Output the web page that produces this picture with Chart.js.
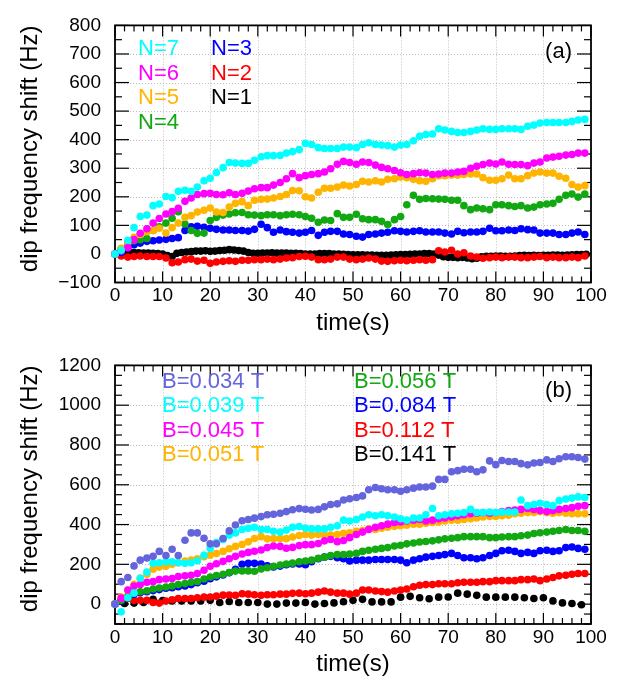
<!DOCTYPE html>
<html><head><meta charset="utf-8">
<script src="https://cdn.jsdelivr.net/npm/chart.js@4.4.1/dist/chart.umd.min.js"></script>
<style>
html,body{margin:0;padding:0;background:#fff;}
#wrap{position:relative;width:638px;height:683px;overflow:hidden;background:#fff;}
#ca{position:absolute;left:0;top:0;}
#cb{position:absolute;left:0;top:340px;}
</style></head><body>
<div id="wrap"><canvas id="ca" width="638" height="340"></canvas><canvas id="cb" width="638" height="343"></canvas></div>
<script>
const FONT = '"Liberation Sans", Arial, Helvetica, sans-serif';

// time axes (s)
const T = [0,1.3,2.7,4,5.3,6.7,8,9.3,10.7,12,13.3,14.7,16,17.3,18.7,
20,21.3,22.7,24,25.3,26.7,28,29.3,30.7,32,33.3,34.7,36,37.3,38.7,
40,41.3,42.7,44,45.3,46.7,48,49.3,50.7,52,53.3,54.7,56,57.3,58.7,
60,61.3,62.7,64,65.3,66.7,68,69.3,70.7,72,73.3,74.7,76,77.3,78.7,
80,81.3,82.7,84,85.3,86.7,88,89.3,90.7,92,93.3,94.7,96,97.3,98.7];
const T1 = [0,1,2,3,4,5,6,7,8,9,10,11,12,13,14,15,16,17,18,19,20,21,22,23,24,25,26,27,28,29,
30,31,32,33,34,35,36,37,38,39,40,41,42,43,44,45,46,47,48,49,50,51,52,53,54,55,56,57,58,59,
60,61,62,63,64,65,66,67,68,69,70,71,72,73,74,75,76,77,78,79,80,81,82,83,84,85,86,87,88,89,
90,91,92,93,94,95,96,97,98,99];
const T2 = [0,2,4,6,8,10,12,14,16,18,20,22,24,26,28,30,32,34,36,38,40,42,44,46,48,
50,52,54,56,58,60,62,64,66,68,70,72,74,76,78,80,82,84,86,88,90,92,94,96,98];

// panel (a): N series (Hz)
const N7 = [0,13,48,92,131,136,169,175,201,197,219,223,219,234,256,
265,285,302,320,318,317,317,328,340,344,344,345,353,358,365,
387,383,372,369,369,369,374,
374,372,383,389,383,381,379,374,381,383,396,412,418,420,438,434,429,425,425,429,434,438,436,436,438,438,438,436,447,451,458,460,460,460,460,464,469,471];
const N6 = [0,10,22,50,72,88,108,124,140,148,160,184,196,208,211,
212,208,207,214,208,212,220,228,232,232,241,250,263,281,267,
274,278,281,287,298,314,324,
320,314,322,320,311,303,298,292,284,278,281,284,283,278,280,283,283,287,289,300,307,313,318,315,322,314,313,313,309,318,322,336,339,342,346,348,353,353];
const N5 = [0,20,42,58,68,78,82,90,73,92,108,128,134,147,153,
161,147,145,164,177,183,169,188,191,192,196,201,208,222,221,
200,196,216,230,230,234,241,
238,243,254,252,256,252,261,263,269,267,261,256,254,263,274,274,276,276,278,280,280,267,258,258,263,276,263,263,274,283,287,283,283,272,265,243,234,239];
const N4 = [0,18,38,46,50,54,82,95,108,125,148,105,82,72,73,
117,128,136,140,144,145,137,136,134,137,137,134,137,139,137,
131,125,111,119,117,141,128,128,139,123,120,120,114,103,120,
131,172,205,191,194,193,192,191,188,188,169,155,161,158,155,
172,172,169,166,169,161,164,172,175,177,191,205,210,199,210];
const N3 = [0,5,22,32,38,44,46,49,51,54,57,82,95,97,93,
90,86,84,84,82,82,80,86,104,92,76,84,78,76,73,
76,82,65,76,79,79,70,68,62,59,68,70,73,76,81,
79,77,79,81,77,77,77,73,70,79,74,77,77,79,90,
81,81,84,82,88,85,84,73,73,73,68,68,73,77,68];
const N2 = [0,-7,-11,-9,-7,-9,-9,-9,-14,-31,-28,-20,-18,-25,-22,
-33,-28,-26,-24,-26,-22,-22,-20,-20,-18,-20,-18,-14,-13,-9,
-8,-11,-20,-20,-18,-11,-11,-18,-20,-18,-14,-18,-25,-26,-24,
-22,-24,-22,-20,-22,-20,11,7,13,0,4,-7,-11,-15,-13,
-11,-13,-11,-11,-13,-13,-11,-9,-13,-11,-13,-13,-11,-13,-7];
const N1 = [0,5,6,5,5,4,3,3,2,1, 0,-6,-9,2,5,7,8,10,10,11,
9,10,12,13,15,14,12,10,5,2, 2,3,3,4,3,3,3,2,2,1,
0,0,0,1,1,1,0,0,-1,-2, -3,-3,-3,-4,-4,-5,-5,-5,-4,-3,
-2,-2,-1,0,0,1,1,0,-4,-10, -12,-12,-13,-12,-14,-17,-15,-10,-8,-8,
-7,-7,-8,-8,-7,-6,-5,-6,-5,-6, -5,-5,-4,-4,-5,-4,-3,-2,-2,-1];

// panel (b): B series (Hz)
const B034 = [0,113,134,192,221,232,240,265,244,276,244,321,358,358,331,
303,303,330,368,398,419,425,432,440,449,452,457,465,474,480,
477,473,476,489,501,504,523,530,536,544,575,586,580,575,575,
567,575,583,589,589,593,627,627,665,671,678,678,665,675,720,
701,722,717,717,706,700,709,712,725,717,731,741,741,737,729];
const B039 = [0,-39,32,55,130,161,205,208,213,213,208,205,208,218,245,
280,310,325,347,358,375,381,386,375,375,366,362,372,386,390,
382,378,378,378,386,394,422,
418,425,438,449,444,449,444,438,429,422,433,433,449,481,444,449,454,457,460,476,460,460,463,460,463,463,463,523,495,501,507,501,495,520,528,533,539,536];
const B045 = [0,30,71,91,98,110,113,123,126,129,139,142,145,154,170,
190,203,215,228,240,252,260,266,272,284,292,290,281,285,294,
299,299,305,318,325,314,320,
334,350,362,375,386,394,402,410,413,418,422,425,418,422,429,433,438,444,449,454,457,460,457,460,465,470,473,476,481,476,470,465,470,476,481,485,492,495];
const B051 = [0,35,70,100,130,150,175,186,190,200,208,216,221,228,238,
246,254,265,278,290,300,313,330,339,328,329,330,329,337,345,
350,347,350,350,347,350,356,
359,366,370,378,375,381,386,391,394,397,402,402,407,410,413,418,422,422,425,429,433,438,441,441,444,447,454,457,460,460,465,460,457,460,457,454,454,454];
const B056 = [0,20,40,57,62,67,76,81,86,91,98,103,110,114,126,
136,144,150,159,166,167,167,165,177,183,190,196,202,206,213,
217,221,230,236,244,249,249,
252,255,265,271,276,280,284,292,296,303,307,312,315,318,323,328,331,334,339,339,339,339,334,334,337,339,339,344,347,355,359,362,366,370,375,370,370,366];
const B084 = [0,15,32,50,57,62,68,73,80,82,87,91,98,107,115,
128,137,146,158,175,200,205,205,202,192,187,191,198,202,202,
198,213,228,236,240,233,228,
217,221,221,221,224,224,224,224,221,208,221,228,236,240,244,249,255,244,233,233,228,233,244,255,268,271,265,255,260,255,268,271,265,268,284,287,280,276];
const B112 = [0,18,28,19,19,19,8,5,15,22,28,28,28,32,35,
36,40,45,46,44,52,50,47,44,47,47,50,50,54,55,
52,55,60,66,60,55,55,
50,55,71,71,66,63,60,66,71,76,87,95,98,98,102,102,102,107,110,110,110,113,113,118,118,118,118,123,123,126,118,126,134,142,145,150,154,154];
const B141 = [0,3,5,8,24,18,16,16,16,16,19,8,13,8,8,8,0,0,5,5,
8,0,3,6,12,19,24,11,11,11,35,39,32,27,35,36,55,50,44,35,
35,35,35,32,28,32,16,6,3,-3];

// labels, colours, ticks
const NAMES_A = ['N=7','N=6','N=5','N=4','N=3','N=2','N=1'];
const COLORS_A = ['#00FFFF','#FF00FF','#FFB400','#12A812','#0000FF','#FF0000','#000000'];
const NAMES_B = ['B=0.034 T','B=0.039 T','B=0.045 T','B=0.051 T','B=0.056 T','B=0.084 T','B=0.112 T','B=0.141 T'];
const COLORS_B = ['#6464DC','#00FFFF','#FF00FF','#FFB400','#12A812','#0000FF','#FF0000','#000000'];
const X_TICKS = [0,10,20,30,40,50,60,70,80,90,100];
const Y_TICKS_A = [-100,0,100,200,300,400,500,600,700,800];
const Y_TICKS_B = [0,200,400,600,800,1000,1200];

const SERIES_A = [[T,N7],[T,N6],[T,N5],[T,N4],[T,N3],[T,N2],[T1,N1]];
const SERIES_B = [[T,B034],[T,B039],[T,B045],[T,B051],[T,B056],[T,B084],[T,B112],[T2,B141]];

function pts(ts, vs){ const out=[]; for(let i=0;i<ts.length && i<vs.length;i++) out.push({x:ts[i],y:vs[i]}); return out; }
function fmt(v){ return v<0 ? '\u2212'+Math.abs(v) : String(v); }

const rootFrame = {
  id:'rootFrame',
  beforeDatasetsDraw(chart, args, o){
    const {ctx, chartArea:a, scales:{x,y}} = chart;
    ctx.save();
    ctx.strokeStyle='#bdbdbd'; ctx.lineWidth=1; ctx.setLineDash([1,2]);
    x.ticks.forEach(t=>{ if(t.value>x.min && t.value<x.max){ const p=Math.round(x.getPixelForValue(t.value))+0.5; ctx.beginPath(); ctx.moveTo(p,a.top); ctx.lineTo(p,a.bottom); ctx.stroke(); }});
    y.ticks.forEach(t=>{ if(t.value>y.min && t.value<y.max){ const p=Math.round(y.getPixelForValue(t.value))+0.5; ctx.beginPath(); ctx.moveTo(a.left,p); ctx.lineTo(a.right,p); ctx.stroke(); }});
    ctx.setLineDash([]);
    ctx.strokeStyle='#000'; ctx.lineWidth=1.2;
    const seg=(x1,y1,x2,y2)=>{ctx.beginPath();ctx.moveTo(x1,y1);ctx.lineTo(x2,y2);ctx.stroke();};
    for(let v=o.yMinorStart; v<=y.max+1e-9; v+=o.yMinor){
      const major = Math.abs(((v - o.yMajorBase) % o.yMajor)) < 1e-6;
      const L = major?14:7; const p=y.getPixelForValue(v);
      seg(a.left,p,a.left+L,p); seg(a.right,p,a.right-L,p);
    }
    for(let v=x.min; v<=x.max+1e-9; v+=o.xMinor){
      const major = Math.abs(v % 10) < 1e-6;
      const L = major?11:6; const p=x.getPixelForValue(v);
      seg(p,a.bottom,p,a.bottom-L); seg(p,a.top,p,a.top+L);
    }
    ctx.lineWidth=1.8;
    ctx.strokeRect(a.left,a.top,a.right-a.left,a.bottom-a.top);
    ctx.restore();
  }
};

const rootLegend = {
  id:'rootLegend',
  afterDraw(chart, args, o){
    const {ctx, chartArea:a} = chart;
    ctx.save();
    ctx.font = o.size+'px '+FONT; ctx.textBaseline='middle'; ctx.textAlign='left';
    o.labels.forEach((lab,i)=>{
      const col=Math.floor(i/o.rows), row=i%o.rows;
      ctx.fillStyle=o.colors[i];
      ctx.fillText(lab, a.left+o.dx+col*o.colDx, a.top+o.dy+row*o.rowDy);
    });
    ctx.textAlign='right'; ctx.fillStyle='#000';
    ctx.fillText(o.tag, a.right-o.tagDx, a.top+o.tagDy);
    ctx.restore();
  }
};

function makeChart(canvas, series, names, colors, yMin, yMax, yTicks, padTop, xAxisH, titlePadB, frameOpts, legendOpts){
  const datasets = series.map((s,i)=>({
    label:names[i], data:pts(s[0],s[1]), showLine:false,
    pointRadius:3.8, pointHoverRadius:3.8, pointBorderWidth:0,
    pointBackgroundColor:colors[i], backgroundColor:colors[i], borderColor:colors[i], clip:false
  }));
  return new Chart(canvas, {
    type:'scatter',
    data:{datasets},
    plugins:[rootFrame, rootLegend],
    options:{
      responsive:false, animation:false, devicePixelRatio:1,
      layout:{padding:{top:padTop, right:47, bottom:0, left:0}},
      plugins:{legend:{display:false}, tooltip:{enabled:false}, rootFrame:frameOpts, rootLegend:legendOpts},
      scales:{
        x:{type:'linear', min:0, max:100,
          afterBuildTicks:s=>{ s.ticks = X_TICKS.map(v=>({value:v})); },
          afterFit:s=>{ s.height = xAxisH; },
          grid:{display:false, drawTicks:false}, border:{display:false},
          ticks:{autoSkip:false, maxRotation:0, minRotation:0, padding:2, color:'#000', font:{family:FONT, size:19}},
          title:{display:true, text:'time(s)', color:'#000', font:{family:FONT, size:24}, padding:{top:0, bottom:titlePadB}}
        },
        y:{type:'linear', min:yMin, max:yMax,
          afterBuildTicks:s=>{ s.ticks = yTicks.map(v=>({value:v})); },
          afterFit:s=>{ s.width = 115; },
          grid:{display:false, drawTicks:false}, border:{display:false},
          ticks:{autoSkip:false, padding:14, color:'#000', font:{family:FONT, size:19}, callback:fmt},
          title:{display:true, text:'dip frequency shift (Hz)', align:'end', color:'#000', font:{family:FONT, size:24}, padding:{top:16, bottom:0}}
        }
      }
    }
  });
}

makeChart(document.getElementById('ca'), SERIES_A, NAMES_A, COLORS_A, -100, 800, Y_TICKS_A, 10, 57.5, 2.6,
  {yMinor:50, yMajor:100, yMajorBase:0, yMinorStart:-100, xMinor:2},
  {labels:NAMES_A, colors:COLORS_A, rows:4, size:22, dx:23, dy:24, rowDy:24.4, colDx:73, tag:'(a)', tagDx:19, tagDy:27});

makeChart(document.getElementById('cb'), SERIES_B, NAMES_B, COLORS_B, -100, 1200, Y_TICKS_B, 10.5, 59, 4,
  {yMinor:50, yMajor:200, yMajorBase:0, yMinorStart:-100, xMinor:2},
  {labels:NAMES_B, colors:COLORS_B, rows:4, size:22, dx:47, dy:16.5, rowDy:24.4, colDx:192, tag:'(b)', tagDx:19, tagDy:25.5});
</script></body></html>
